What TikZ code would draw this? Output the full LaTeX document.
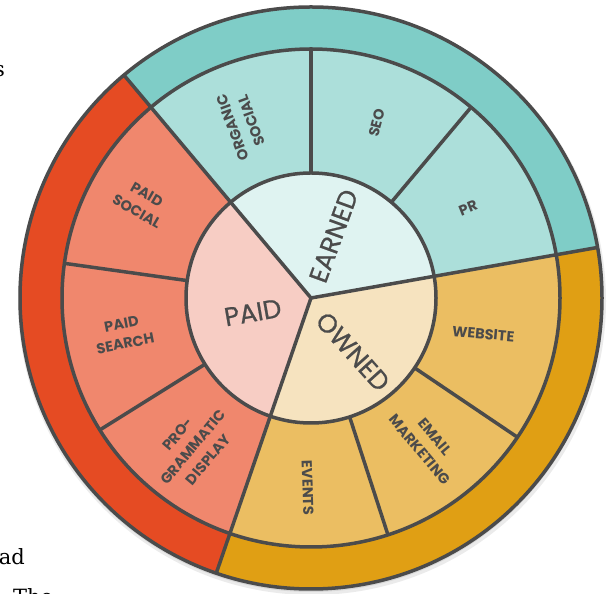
\documentclass[tikz,border=0pt]{standalone}
\usepackage{fontspec}
\setmainfont{Poppins}
\newfontfamily\midfont[FakeBold=0.7]{Poppins}
\newfontfamily\slabfont{DejaVu Serif}
\definecolor{linegray}{HTML}{4B4B4B}
\definecolor{earnout}{HTML}{7FCDC7}
\definecolor{earnmid}{HTML}{ACDFDA}
\definecolor{earnin}{HTML}{DFF3F1}
\definecolor{paidout}{HTML}{E54B23}
\definecolor{paidmid}{HTML}{F0876D}
\definecolor{paidin}{HTML}{F7CDC4}
\definecolor{ownout}{HTML}{E09F14}
\definecolor{ownmid}{HTML}{EBBE62}
\definecolor{ownin}{HTML}{F6E3BF}

\begin{document}
\begin{tikzpicture}[x=1pt,y=1pt,
  rim/.style={draw=linegray,line width=3.5pt,line join=round},
  segtext/.style={text=linegray,font=\bfseries\fontsize{14.5}{20}\selectfont,align=center,inner sep=0pt},
  maintext/.style={text=linegray,font=\midfont\fontsize{26}{26}\selectfont,inner sep=0pt},
  pagetext/.style={text=black,font=\slabfont\fontsize{21}{21}\selectfont,inner sep=0pt}]
\clip (0,0) rectangle (611,594);
\fill[white] (0,0) rectangle (611,594);
% bits of the page text
\node[pagetext,anchor=base east] (txts) at (5,517){s};
\node[pagetext,anchor=base east] (txtad) at (25,29){ad};
\node[pagetext,anchor=north west] (txtthe) at (13,6){The};
\begin{scope}[shift={(311,296)}]
% shadow
\fill[black,opacity=.08] (1,-3) circle (294);
\fill[black,opacity=.08] (0,-2) circle (292);
% outer ring
\foreach \a/\b/\col in {10/130/earnout,130/251/paidout,251/370/ownout}
  \fill[\col] (\a:249) arc[start angle=\a,end angle=\b,radius=249]
    -- (\b:291) arc[start angle=\b,end angle=\a,radius=291] -- cycle;
% middle ring
\foreach \a/\b/\col in {10/130/earnmid,130/251/paidmid,251/370/ownmid}
  \fill[\col] (\a:125) arc[start angle=\a,end angle=\b,radius=125]
    -- (\b:249) arc[start angle=\b,end angle=\a,radius=249] -- cycle;
% inner pie
\foreach \a/\b/\col in {10/130/earnin,130/251/paidin,251/370/ownin}
  \fill[\col] (0,0) -- (\a:125) arc[start angle=\a,end angle=\b,radius=125] -- cycle;
% lines
\draw[rim] (0,0) circle (125) (0,0) circle (249) (0,0) circle (291);
\foreach \a in {10,130,251}
  \draw[rim] (0,0) -- (\a:291);
\foreach \a in {50,90,172,212,288,326}
  \draw[rim] (\a:125) -- (\a:249);
% inner labels
\node[maintext,rotate=70] (earned) at (70:66){EARNED};
\node[maintext,rotate=10] (paid) at (194:60){PAID};
\node[maintext,rotate=-48] (owned) at (-52:68){OWNED};
% segment labels
\node[segtext,rotate=110] (orgsoc) at (111.6:187){ORGANIC\\SOCIAL};
\node[segtext,rotate=75] (seo) at (69.3:187){SEO};
\node[segtext,rotate=22] (pr) at (29.8:181){PR};
\node[segtext,rotate=-30] (paidsoc) at (150.7:194){PAID\\SOCIAL};
\node[segtext,rotate=11] (paidsearch) at (190.8:191){PAID\\SEARCH};
\node[segtext,rotate=50] (prog) at (231.6:190){PRO-\\GRAMMATIC\\DISPLAY};
\node[segtext,rotate=-88] (events) at (269:190){EVENTS};
\node[segtext,rotate=-50] (email) at (-51.3:186){EMAIL\\MARKETING};
\node[segtext,rotate=-5] (website) at (-11.8:176){WEBSITE};
\end{scope}
\end{tikzpicture}
\end{document}
